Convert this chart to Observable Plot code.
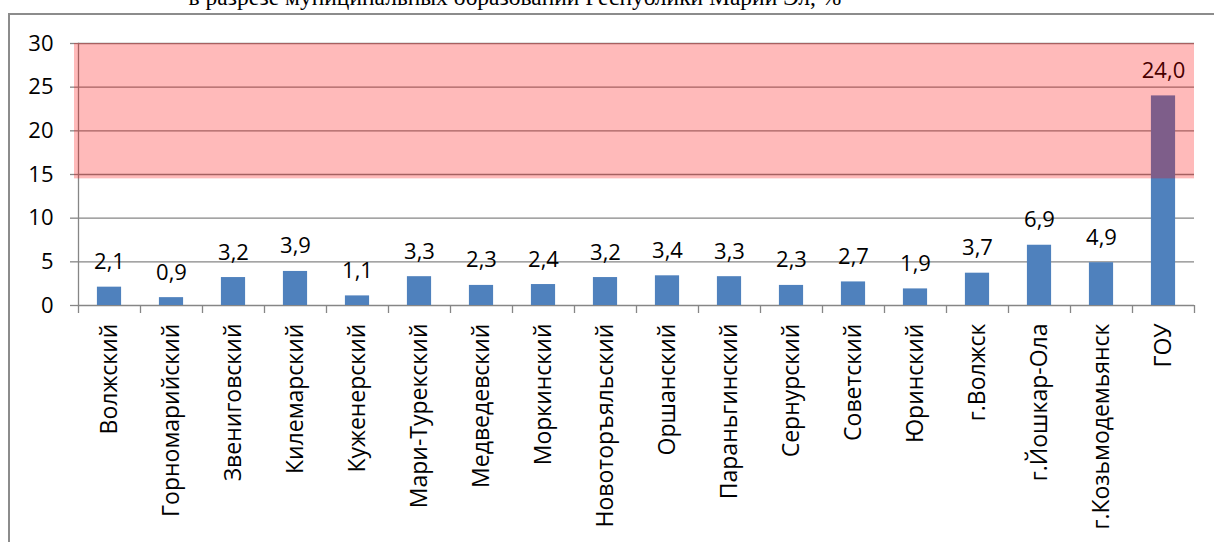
<!DOCTYPE html>
<html>
<head>
<meta charset="utf-8">
<script src="https://cdn.jsdelivr.net/npm/d3@7"></script>
<script src="https://cdn.jsdelivr.net/npm/@observablehq/plot@0.6"></script>
<style>
  html, body { margin: 0; padding: 0; background: #fff; }
  #wrap { position: relative; width: 1214px; height: 542px; overflow: hidden; background: #fff; }
  #title { position: absolute; left: 0; width: 1030px; top: -16px; line-height: 27px; text-align: center;
           font-family: "Liberation Serif", "Times New Roman", serif; font-size: 23.5px; color: #000; white-space: nowrap; }
  #box { position: absolute; left: 8px; top: 13px; width: 1300px; height: 700px;
         border-left: 2px solid #8c8c8c; border-top: 2px solid #8c8c8c; }
  #chart { position: absolute; left: 0; top: 0; }
</style>
</head>
<body>
<div id="wrap">
  <div id="title">в разрезе муниципальных образований Республики Марий Эл, %</div>
  <div id="box"></div>
  <div id="chart"></div>
</div>
<script>
const categories = ["Волжский", "Горномарийский", "Звениговский", "Килемарский", "Куженерский",
  "Мари-Турекский", "Медведевский", "Моркинский", "Новоторъяльский", "Оршанский",
  "Параньгинский", "Сернурский", "Советский", "Юринский", "г.Волжск", "г.Йошкар-Ола",
  "г.Козьмодемьянск", "ГОУ"];
const values = [2.1, 0.9, 3.2, 3.9, 1.1, 3.3, 2.3, 2.4, 3.2, 3.4, 3.3, 2.3, 2.7, 1.9, 3.7, 6.9, 4.9, 24.0];
const yTicks = [0, 5, 10, 15, 20, 25, 30];
const zoneLow = [14.5];
const zoneHigh = [30];

const rows = categories.map((c, i) => ({c, v: values[i], i}));
const zone = zoneLow.map((lo, k) => ({lo, hi: zoneHigh[k]}));
const half = 0.195;
const fmt = v => d3.format(".1f")(v).replace(".", ",");
const grey = "#868686";
const font = "'Open Sans', sans-serif";

const chart = Plot.plot({
  width: 1214,
  height: 542,
  marginLeft: 78,
  marginRight: 20,
  marginTop: 43,
  marginBottom: 237,
  style: {fontFamily: font, fontSize: "22px", color: "#000", background: "transparent"},
  x: {type: "linear", domain: [0, categories.length]},
  y: {domain: [0, 30]},
  marks: [
    Plot.ruleY(yTicks.filter(t => t > 0), {stroke: grey, strokeWidth: 1.3}),
    Plot.ruleY([0], {stroke: grey, strokeWidth: 1.3}),
    Plot.frame({anchor: "left", stroke: grey, strokeWidth: 1.3}),
    Plot.axisY({ticks: yTicks, tickSize: 8, tickPadding: 17, stroke: grey, strokeWidth: 1.3, fill: "#000", fontSize: 22, label: null}),
    Plot.axisX({ticks: d3.range(0, categories.length + 1), tickSize: 8, tickFormat: () => "", stroke: grey, strokeWidth: 1.3, label: null}),
    Plot.rectY(rows, {x1: d => d.i + 0.5 - half, x2: d => d.i + 0.5 + half, y1: 0, y2: "v", fill: "#4f81bd"}),
    Plot.text(rows, {x: d => d.i + 0.5, y: "v", text: d => fmt(d.v), lineAnchor: "bottom", dy: -18, fontSize: 22, fill: "#000"}),
    Plot.text(rows, {x: d => d.i + 0.5, y: 0, text: "c", rotate: -90, textAnchor: "end", dy: 18, fontSize: 23, fill: "#000"}),
    Plot.rectY(zone, {y1: "lo", y2: "hi", fill: "#ff0000", fillOpacity: 0.27, insetLeft: -4})
  ]
});
document.getElementById("chart").appendChild(chart);
</script>
</body>
</html>
